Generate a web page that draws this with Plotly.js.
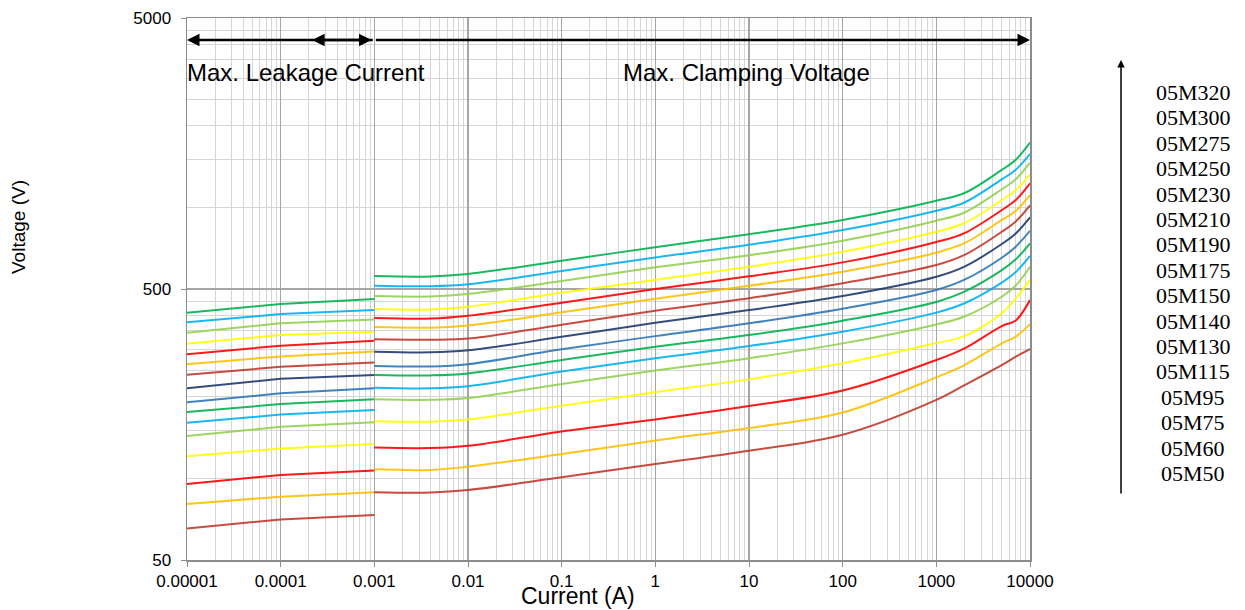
<!DOCTYPE html>
<html>
<head>
<meta charset="utf-8">
<script src="https://cdn.plot.ly/plotly-3.0.1.min.js"></script>
<style>html,body{margin:0;padding:0;background:#fff;}#chart{width:1245px;height:610px;}</style>
</head>
<body>
<div id="chart"></div>
<script>
// ---- data ----
const models = ['05M320','05M300','05M275','05M250','05M230','05M210','05M190','05M175','05M150','05M140','05M130','05M115','05M95','05M75','05M60','05M50'];
const leakCurrent = [1e-5, 1e-4, 1e-3];
const clampCurrent = [0.001, 0.004, 0.01, 0.1, 1, 10, 100, 1000, 2000, 5000, 7000, 10000];

const leak_05M320 = [409, 440, 459];
const leak_05M300 = [377, 404, 418];
const leak_05M275 = [345, 373.5, 386];
const leak_05M250 = [314, 338, 348];
const leak_05M230 = [287, 309, 322];
const leak_05M210 = [264, 282, 294];
const leak_05M190 = [241.5, 258, 268];
const leak_05M175 = [215, 233, 241];
const leak_05M150 = [191, 206, 215];
const leak_05M140 = [176, 188, 196];
const leak_05M130 = [160.6, 172, 179];
const leak_05M115 = [143.4, 155, 161];
const leak_05M95  = [120.7, 129, 134];
const leak_05M75  = [95.4, 103, 107];
const leak_05M60  = [80.5, 85.6, 89];
const leak_05M50  = [65.4, 70.6, 73.3];

const clamp_05M320 = [558, 556, 568, 636, 713, 796, 899, 1058, 1130, 1375, 1495, 1734];
const clamp_05M300 = [514, 512, 520.5, 583, 654, 728, 825, 972, 1043, 1270, 1375, 1574];
const clamp_05M275 = [471, 469, 479, 535, 601, 666, 754, 893, 958, 1167, 1268, 1462];
const clamp_05M250 = [422, 420, 430, 484.5, 540, 604, 686, 813, 876, 1065, 1155, 1325];
const clamp_05M230 = [391, 389, 398.5, 445, 500, 557, 627, 745, 804, 978, 1062, 1227];
const clamp_05M210 = [362, 360, 367, 410, 460, 514, 579, 681, 738, 899, 968, 1109];
const clamp_05M190 = [326, 325, 328, 369, 416, 462, 525, 613, 668, 813, 886, 1018];
const clamp_05M175 = [293.5, 292, 297, 333, 375, 418, 471, 555, 605, 733, 800, 919];
const clamp_05M150 = [260, 259, 264, 299.5, 335, 373.5, 423, 496, 541, 652, 715, 820];
const clamp_05M140 = [241, 240, 244, 273.5, 306, 338, 382, 448, 489, 587, 642, 737];
const clamp_05M130 = [216, 215, 219, 248, 277.5, 308, 348, 409, 443, 528, 576, 662];
const clamp_05M115 = [196, 195, 198, 223, 250, 277.5, 315, 370, 396, 468, 514, 604];
const clamp_05M95  = [162.5, 162, 165, 185.5, 208, 232, 266, 316, 335, 407, 460, 540];
const clamp_05M75  = [130, 129.5, 132, 149, 165, 185, 211, 273.5, 302, 365, 382, 455];
const clamp_05M60  = [108, 107.5, 110.5, 123, 138, 153.5, 175, 236, 262, 315, 333, 371];
const clamp_05M50  = [89, 88.7, 90.6, 101, 113, 126.5, 145, 195, 221, 262, 281, 300];

const xTickVals = [1e-5, 1e-4, 1e-3, 1e-2, 1e-1, 1, 10, 100, 1000, 10000];
const xTickText = ['0.00001','0.0001','0.001','0.01','0.1','1','10','100','1000','10000'];
const yTickVals = [50, 500, 5000];
const yTickText = ['50','500','5000'];

// ---- style ----
const colors = ['#00B050','#00B0F0','#92D050','#FFFF00','#FF0000','#FFC000','#C0392B','#1F3A6E',
                '#2E75B6','#00B050','#00B0F0','#92D050','#FFFF00','#FF0000','#FFC000','#C0392B'];

const leakSets = [leak_05M320,leak_05M300,leak_05M275,leak_05M250,leak_05M230,leak_05M210,leak_05M190,leak_05M175,leak_05M150,leak_05M140,leak_05M130,leak_05M115,leak_05M95,leak_05M75,leak_05M60,leak_05M50];
const clampSets = [clamp_05M320,clamp_05M300,clamp_05M275,clamp_05M250,clamp_05M230,clamp_05M210,clamp_05M190,clamp_05M175,clamp_05M150,clamp_05M140,clamp_05M130,clamp_05M115,clamp_05M95,clamp_05M75,clamp_05M60,clamp_05M50];

const traces = [];
models.forEach((m, i) => {
  traces.push({x: leakCurrent, y: leakSets[i], type: 'scatter', mode: 'lines', name: m,
    line: {color: colors[i], width: 2}, opacity: 0.9, showlegend: false, hoverinfo: 'skip'});
  traces.push({x: clampCurrent, y: clampSets[i], type: 'scatter', mode: 'lines', name: m,
    line: {color: colors[i], width: 2, shape: 'spline', smoothing: 1}, opacity: 0.9, showlegend: false, hoverinfo: 'skip'});
});

const minorX = [];
for (let d = -5; d < 4; d++) for (let k = 2; k <= 9; k++) minorX.push(k * Math.pow(10, d));
const minorY = [];
for (let k = 2; k <= 9; k++) { minorY.push(50 * k); minorY.push(500 * k); }

const W = 1245, H = 610, L = 187, R = 215, T = 18, B = 50;
const pw = W - L - R, ph = H - T - B;
const px = v => (v - L) / pw;
const py = v => (H - B - v) / ph;

const tickFont = {family: 'Liberation Sans, Arial, sans-serif', size: 17, color: '#000'};
const annFont = {family: 'Liberation Sans, Arial, sans-serif', size: 24, color: '#000'};

const arrowY = Math.log10(50) + (H - B - 40) / ph * 2;

const annotations = [
  {xref:'paper', yref:'paper', x: px(18), y: py(227), text: 'Voltage (V)', textangle: -90, showarrow: false,
   font: {family: 'Liberation Sans, Arial, sans-serif', size: 19, color: '#000'}, xanchor: 'center', yanchor: 'middle'},
  {xref:'paper', yref:'paper', x: px(578), y: py(596), text: 'Current (A)', showarrow: false,
   font: {family: 'Liberation Sans, Arial, sans-serif', size: 23, color: '#000'}, xanchor: 'center', yanchor: 'middle'},
  {xref:'paper', yref:'paper', x: px(185), y: py(72), text: 'Max. Leakage Current', showarrow: false,
   font: annFont, xanchor: 'left', yanchor: 'middle'},
  {xref:'paper', yref:'paper', x: px(621), y: py(72), text: 'Max. Clamping Voltage', showarrow: false,
   font: annFont, xanchor: 'left', yanchor: 'middle'},
  // range arrows
  {xref:'x', yref:'y', axref:'x', ayref:'y', x: -5, y: arrowY, ax: -3, ay: arrowY, text: '', showarrow: true,
   arrowhead: 2, arrowsize: 1, arrowwidth: 2.5, arrowcolor: '#000', arrowside: 'end', standoff: 0},
  {xref:'x', yref:'y', axref:'x', ayref:'y', x: -3.03, y: arrowY, ax: -3.68, ay: arrowY, text: '', showarrow: true,
   arrowhead: 2, arrowsize: 1, arrowwidth: 2.5, arrowcolor: '#000', arrowside: 'end+start', standoff: 0, startstandoff: 0},
  {xref:'x', yref:'y', axref:'x', ayref:'y', x: 4, y: arrowY, ax: -3, ay: arrowY, text: '', showarrow: true,
   arrowhead: 2, arrowsize: 1, arrowwidth: 2.5, arrowcolor: '#000', arrowside: 'end', standoff: 0},
  // legend arrow
  {xref:'paper', yref:'paper', x: px(1121), y: py(60), ax: 0, ay: 435, text: '', showarrow: true,
   arrowhead: 2, arrowsize: 1, arrowwidth: 1.5, arrowcolor: '#000', standoff: 0}
];
models.forEach((m, i) => {
  annotations.push({xref:'paper', yref:'paper', x: px(1193), y: py(92.5 + i * 25.4), text: m, showarrow: false,
    font: {family: 'Liberation Serif, Times New Roman, serif', size: 22, color: '#000'}, xanchor: 'center', yanchor: 'middle'});
});

const layout = {
  width: W, height: H,
  margin: {l: L, r: R, t: T, b: B, pad: 0},
  paper_bgcolor: '#fff', plot_bgcolor: '#fff',
  showlegend: false,
  xaxis: {
    type: 'log', range: [-5, 4], autorange: false,
    tickmode: 'array', tickvals: xTickVals, ticktext: xTickText,
    showgrid: true, gridcolor: '#a6a6a6', gridwidth: 1.3,
    minor: {tickmode: 'array', tickvals: minorX, showgrid: true, gridcolor: '#d6d6d6', gridwidth: 1, ticks: ''},
    showline: true, linecolor: '#8c8c8c', linewidth: 1.5, mirror: true,
    ticks: 'outside', ticklen: 5, tickcolor: '#8c8c8c', tickwidth: 1,
    tickfont: tickFont, zeroline: false, automargin: false
  },
  yaxis: {
    type: 'log', range: [Math.log10(50), Math.log10(5000)], autorange: false,
    tickmode: 'array', tickvals: yTickVals, ticktext: yTickText,
    showgrid: true, gridcolor: '#a6a6a6', gridwidth: 1.3,
    minor: {tickmode: 'array', tickvals: minorY, showgrid: true, gridcolor: '#d6d6d6', gridwidth: 1, ticks: ''},
    showline: true, linecolor: '#8c8c8c', linewidth: 1.5, mirror: true,
    ticks: 'outside', ticklen: 5, tickcolor: '#8c8c8c', tickwidth: 1,
    ticklabelstandoff: 6,
    tickfont: tickFont, zeroline: false, automargin: false
  },
  annotations: annotations
};

Plotly.newPlot('chart', traces, layout, {staticPlot: true, displayModeBar: false});
</script>
</body>
</html>
